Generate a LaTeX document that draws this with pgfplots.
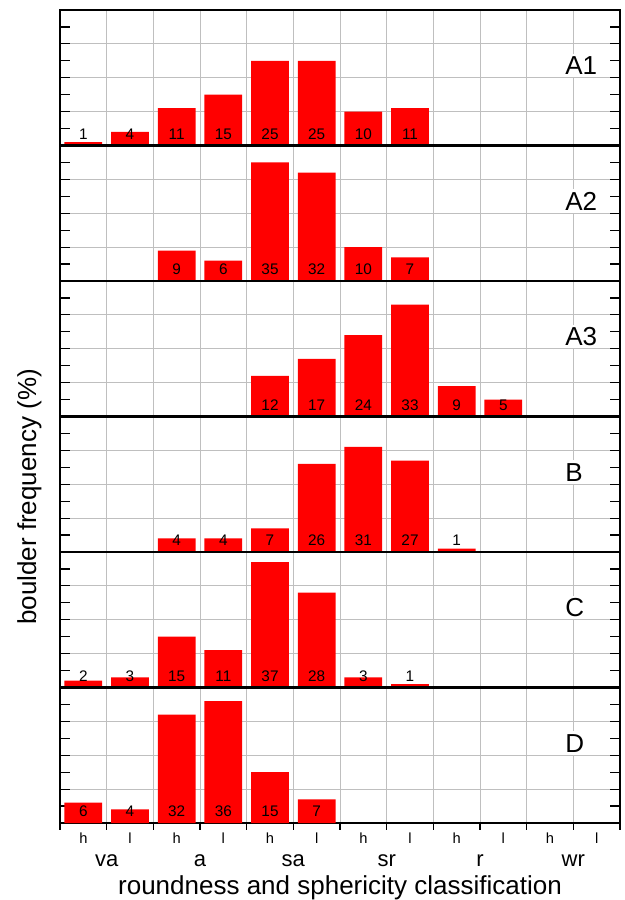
\documentclass[border=0pt]{standalone}
\usepackage{fontspec}
\setmainfont{Liberation Sans}
\usepackage{pgfplots}
\usepackage{pgfplotstable}
\pgfplotsset{compat=1.18}
\usepgfplotslibrary{groupplots}

% boulder frequency (%) per class, only non-empty classes
% x: 0=va-h 1=va-l 2=a-h 3=a-l 4=sa-h 5=sa-l 6=sr-h 7=sr-l 8=r-h 9=r-l 10=wr-h 11=wr-l
\pgfplotstableread{
x y
0 1
1 4
2 11
3 15
4 25
5 25
6 10
7 11
}\dataAone
\pgfplotstableread{
x y
2 9
3 6
4 35
5 32
6 10
7 7
}\dataAtwo
\pgfplotstableread{
x y
4 12
5 17
6 24
7 33
8 9
9 5
}\dataAthree
\pgfplotstableread{
x y
2 4
3 4
4 7
5 26
6 31
7 27
8 1
}\dataB
\pgfplotstableread{
x y
0 2
1 3
2 15
3 11
4 37
5 28
6 3
7 1
}\dataC
\pgfplotstableread{
x y
0 6
1 4
2 32
3 36
4 15
5 7
}\dataD

\pgfplotsset{
  panel/.style={
    width=420pt, height=101.625pt, scale only axis,
    xmin=-0.5, xmax=11.5, ymin=0, ymax=40,
    xtick={-0.5,0.5,...,11.5}, xticklabels={},
    xtick style={draw=none},
    ytick={10,20,30}, minor ytick={5,15,25,35}, yticklabels={},
    tick align=inside, major tick length=7.5pt, minor tick length=7.5pt,
    ytick style={black, line width=0.9pt},
    grid=major, grid style={black!25, line width=0.75pt},
    extra y ticks={0,40}, extra y tick labels={},
    extra y tick style={grid=major,
      grid style={black, line width=1.9pt}, ytick style={draw=none}},
    axis line style={line width=1pt},
    clip=false,
    /pgf/number format/assume math mode=true,
  },
  bars/.style={
    ybar, bar width=0.81, bar shift=0pt, fill=red, draw=none,
    nodes near coords,
    visualization depends on={\thisrow{y}\as\rawy},
    every node near coord/.append style={anchor=base, inner sep=0pt,
      yshift={4.8pt-\rawy*2.5406pt}, text=black,
      font=\fontsize{11.5}{13}\selectfont},
  },
}
\tikzset{
  plab/.style={fill=white, inner sep=2pt, anchor=west,
    font=\fontsize{19.5}{22}\selectfont},
  hl/.style={anchor=base, yshift=-15pt, font=\fontsize{11}{12}\selectfont},
  grp/.style={anchor=base, yshift=-32.3pt, font=\fontsize{16.5}{18}\selectfont},
}

\begin{document}
\begin{tikzpicture}
\begin{groupplot}[group style={group size=1 by 6, vertical sep=0pt}, panel]
\nextgroupplot
\addplot[bars] table[x=x,y=y]{\dataAone};
\node[plab] at (rel axis cs:0.897,0.59) {A1};
\nextgroupplot
\addplot[bars] table[x=x,y=y]{\dataAtwo};
\node[plab] at (rel axis cs:0.897,0.59) {A2};
\nextgroupplot
\addplot[bars] table[x=x,y=y]{\dataAthree};
\node[plab] at (rel axis cs:0.897,0.59) {A3};
\nextgroupplot
\addplot[bars] table[x=x,y=y]{\dataB};
\node[plab] at (rel axis cs:0.897,0.59) {B};
\nextgroupplot
\addplot[bars] table[x=x,y=y]{\dataC};
\node[plab] at (rel axis cs:0.897,0.59) {C};
\nextgroupplot[xtick pos=left,
  extra x ticks={-0.5,0.5,...,11.5}, extra x tick labels={},
  extra x tick style={grid=none, tick align=outside, major tick length=5pt,
    xtick style={draw=black, line width=1.2pt}}]
\addplot[bars] table[x=x,y=y]{\dataD};
\node[plab] at (rel axis cs:0.897,0.59) {D};
\pgfplotsinvokeforeach{0,2,4,6,8,10}{\node[hl] at (axis cs:#1,0) {h};}
\pgfplotsinvokeforeach{1,3,5,7,9,11}{\node[hl] at (axis cs:#1,0) {l};}
\node[grp] at (axis cs:0.5,0) {va};
\node[grp] at (axis cs:2.5,0) {a};
\node[grp] at (axis cs:4.5,0) {sa};
\node[grp] at (axis cs:6.5,0) {sr};
\node[grp] at (axis cs:8.5,0) {r};
\node[grp] at (axis cs:10.5,0) {wr};
\node[anchor=base, yshift=-53.3pt, font=\fontsize{19.5}{22}\selectfont]
  at (axis cs:5.5,0) {roundness and sphericity classification};
\end{groupplot}
\node[rotate=90, anchor=base, font=\fontsize{19.5}{22}\selectfont]
  at ([shift={(-18pt,244.5pt)}]group c1r6.south west) {boulder frequency (\%)};
\pgfresetboundingbox
\path ([shift={(-45pt,7.5pt)}]group c1r1.north west) rectangle
  ([shift={(3pt,-57.75pt)}]group c1r6.south east);
\end{tikzpicture}
\end{document}
